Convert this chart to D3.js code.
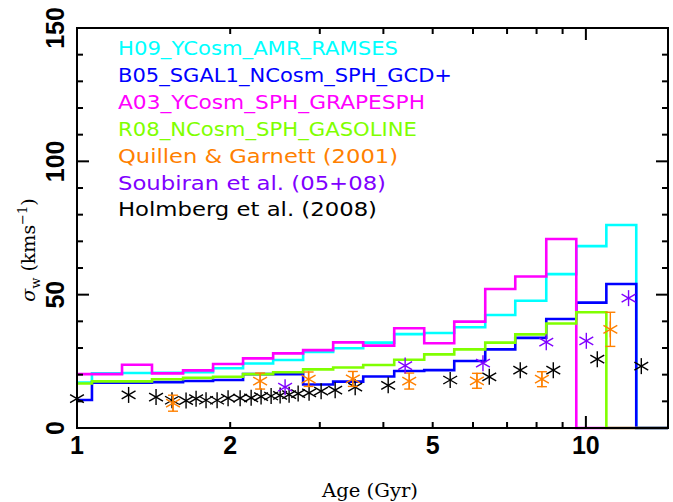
<!DOCTYPE html>
<html><head><meta charset="utf-8">
<script src="https://cdn.jsdelivr.net/npm/d3@7"></script>
<style>body{margin:0;background:#fff}svg{display:block}</style>
</head><body>
<svg id="c" width="673" height="502"></svg>
<script>
// ---- data ----
const binEdges = [1.000,1.070,1.226,1.404,1.616,1.851,2.120,2.429,2.782,3.187,3.651,4.201,4.812,5.512,6.342,7.265,8.359,9.575,10.97,12.56,14.5];
const cyanH09   = [17.0,20.5,20.6,20.7,20.9,22.4,24.2,25.5,28.5,29.9,32.0,35.2,35.6,37.8,42.4,47.7,57.7,68.2,76.1,0];
const blueB05   = [10.5,17.0,17.0,17.2,17.6,18.0,20.2,20.2,16.3,17.4,19.3,21.4,21.7,25.1,29.5,33.8,40.9,47.0,54.0,0];
const magA03    = [20.2,20.2,23.7,20.5,21.6,24.0,26.1,28.0,29.2,32.1,30.9,37.4,31.8,39.9,52.1,56.8,70.9,0,0,0];
const greenR08  = [16.7,17.5,17.5,18.3,18.8,19.2,20.2,20.9,22.0,22.7,23.6,25.6,27.6,29.5,32.0,35.1,39.2,43.4,0,0];
const quillenAge = [1.544,2.290,2.852,3.484,4.496,6.108,8.196,11.17];
const quillenSig = [9.3,17.6,18.3,18.4,17.6,17.7,18.3,37.0];
const quillenErr = [3.0,3.0,2.7,2.8,3.0,2.8,2.8,6.4];
const soubiranAge = [2.564,4.414,6.277,8.359,10.02,12.13];
const soubiranSig = [15.3,23.4,24.3,32.2,32.7,48.7];
const holmbergAge = [1.000,1.263,1.430,1.537,1.638,1.714,1.793,1.885,1.981,2.092,2.199,2.300,2.407,2.507,2.611,2.720,2.858,3.018,3.216,3.521,4.088,5.412,6.459,7.431,8.629,10.53,12.85];
const holmbergSig = [11.0,12.4,11.6,10.4,10.3,11.0,10.4,10.4,11.2,11.2,11.3,11.8,12.0,12.2,12.5,12.9,13.2,13.8,14.2,15.3,16.0,18.0,19.2,21.7,21.7,25.8,23.2];
const xTickLabels = [1,2,5,10];
const yTickLabels = [0,50,100,150];
const legendLabels = ["H09_YCosm_AMR_RAMSES","B05_SGAL1_NCosm_SPH_GCD+","A03_YCosm_SPH_GRAPESPH","R08_NCosm_SPH_GASOLINE","Quillen & Garnett (2001)","Soubiran et al. (05+08)","Holmberg et al. (2008)"];
const legendColors = ["#00ffff","#0000ff","#ff00ff","#80ff00","#ff8000","#8000ff","#000000"];
const legendWidths = [280,334,307,299,280,268,259];

// ---- layout ----
const svg = d3.select("#c");
const L=77, R=668, T=28, B=428;
const x = d3.scaleLog().domain([1,14.5]).range([L,R]);
const y = d3.scaleLinear().domain([0,150]).range([B,T]);

// histograms
const line = d3.line().x(d=>x(d[0])).y(d=>y(d[1])).curve(d3.curveStepAfter);
function stepData(v){
  const pts = v.map((val,i)=>[binEdges[i],val]);
  pts.push([binEdges[binEdges.length-1], v[v.length-1]]);
  return pts;
}
[[cyanH09,"#00ffff"],[blueB05,"#0000ff"],[magA03,"#ff00ff"],[greenR08,"#80ff00"]].forEach(([v,c])=>{
  svg.append("path").attr("d",line(stepData(v))).attr("fill","none")
    .attr("stroke",c).attr("stroke-width",2.6).attr("stroke-linejoin","miter");
});

// asterisk symbol
function asterisk(g, cx, cy, r, color, w){
  const angs=[90,30,150];
  angs.forEach(a=>{
    const dx=r*Math.cos(a*Math.PI/180), dy=r*Math.sin(a*Math.PI/180);
    g.append("line").attr("x1",cx-dx).attr("y1",cy-dy).attr("x2",cx+dx).attr("y2",cy+dy)
      .attr("stroke",color).attr("stroke-width",w);
  });
}
const pts = svg.append("g");
// Holmberg
holmbergAge.forEach((a,i)=>asterisk(pts, x(a), y(holmbergSig[i]), 8, "#000", 1.4));
// Quillen with error bars
quillenAge.forEach((a,i)=>{
  const cx=x(a), v=quillenSig[i], e=quillenErr[i];
  pts.append("line").attr("x1",cx).attr("x2",cx).attr("y1",y(v-e)).attr("y2",y(v+e)).attr("stroke","#ff8000").attr("stroke-width",1.4);
  [v-e,v+e].forEach(vv=>pts.append("line").attr("x1",cx-5).attr("x2",cx+5).attr("y1",y(vv)).attr("y2",y(vv)).attr("stroke","#ff8000").attr("stroke-width",1.4));
  asterisk(pts, cx, y(v), 8, "#ff8000", 1.4);
});
// Soubiran
soubiranAge.forEach((a,i)=>asterisk(pts, x(a), y(soubiranSig[i]), 8, "#8000ff", 1.4));

// ---- frame & ticks ----
const ax = svg.append("g").attr("stroke","#000").attr("stroke-width",2);
ax.append("rect").attr("x",L).attr("y",T).attr("width",R-L).attr("height",B-T).attr("fill","none");
// y ticks
d3.range(0,151,10).forEach(v=>{
  const len = (v%50===0)?12:6;
  ax.append("line").attr("x1",L).attr("x2",L+len).attr("y1",y(v)).attr("y2",y(v));
  ax.append("line").attr("x1",R).attr("x2",R-len).attr("y1",y(v)).attr("y2",y(v));
});
// x ticks
const xMinor=[2,3,4,5,6,7,8,9];
xMinor.forEach(v=>{
  ax.append("line").attr("x1",x(v)).attr("x2",x(v)).attr("y1",B).attr("y2",B-6);
  ax.append("line").attr("x1",x(v)).attr("x2",x(v)).attr("y1",T).attr("y2",T+6);
});
[1,10].forEach(v=>{
  ax.append("line").attr("x1",x(v)).attr("x2",x(v)).attr("y1",B).attr("y2",B-12);
  ax.append("line").attr("x1",x(v)).attr("x2",x(v)).attr("y1",T).attr("y2",T+12);
});

// tick labels
const tl = svg.append("g").attr("font-family","Liberation Sans, Arial, sans-serif").attr("font-weight","bold").attr("font-size",25).attr("fill","#000");
xTickLabels.forEach(v=>{
  tl.append("text").attr("x",x(v)).attr("y",454).attr("text-anchor","middle").text(v);
});
yTickLabels.forEach(v=>{
  tl.append("text").attr("transform",`translate(64,${y(v)}) rotate(-90)`).attr("text-anchor","middle").text(v);
});

// axis titles
svg.append("text").attr("x",370).attr("y",497).attr("text-anchor","middle")
  .attr("font-family","DejaVu Serif, serif").attr("font-size",19).attr("textLength",96).attr("lengthAdjust","spacingAndGlyphs").text("Age (Gyr)");
const yt = svg.append("text").attr("transform","translate(35,250) rotate(-90)").attr("text-anchor","middle")
  .attr("font-family","DejaVu Serif, serif").attr("font-size",19);
yt.append("tspan").attr("font-style","italic").text("σ");
yt.append("tspan").attr("font-size",13).attr("dy",5).text("w");
yt.append("tspan").attr("dy",-5).text(" (kms");
yt.append("tspan").attr("font-size",13).attr("dy",-8).text("−1");
yt.append("tspan").attr("dy",8).text(")");

// legend
const lg = svg.append("g").attr("font-family","DejaVu Sans, sans-serif").attr("font-size",19);
legendLabels.forEach((s,i)=>{
  lg.append("text").attr("x",118).attr("y",55+i*26.9).attr("fill",legendColors[i])
    .attr("textLength",legendWidths[i]).attr("lengthAdjust","spacingAndGlyphs").text(s);
});
</script>
</body></html>
